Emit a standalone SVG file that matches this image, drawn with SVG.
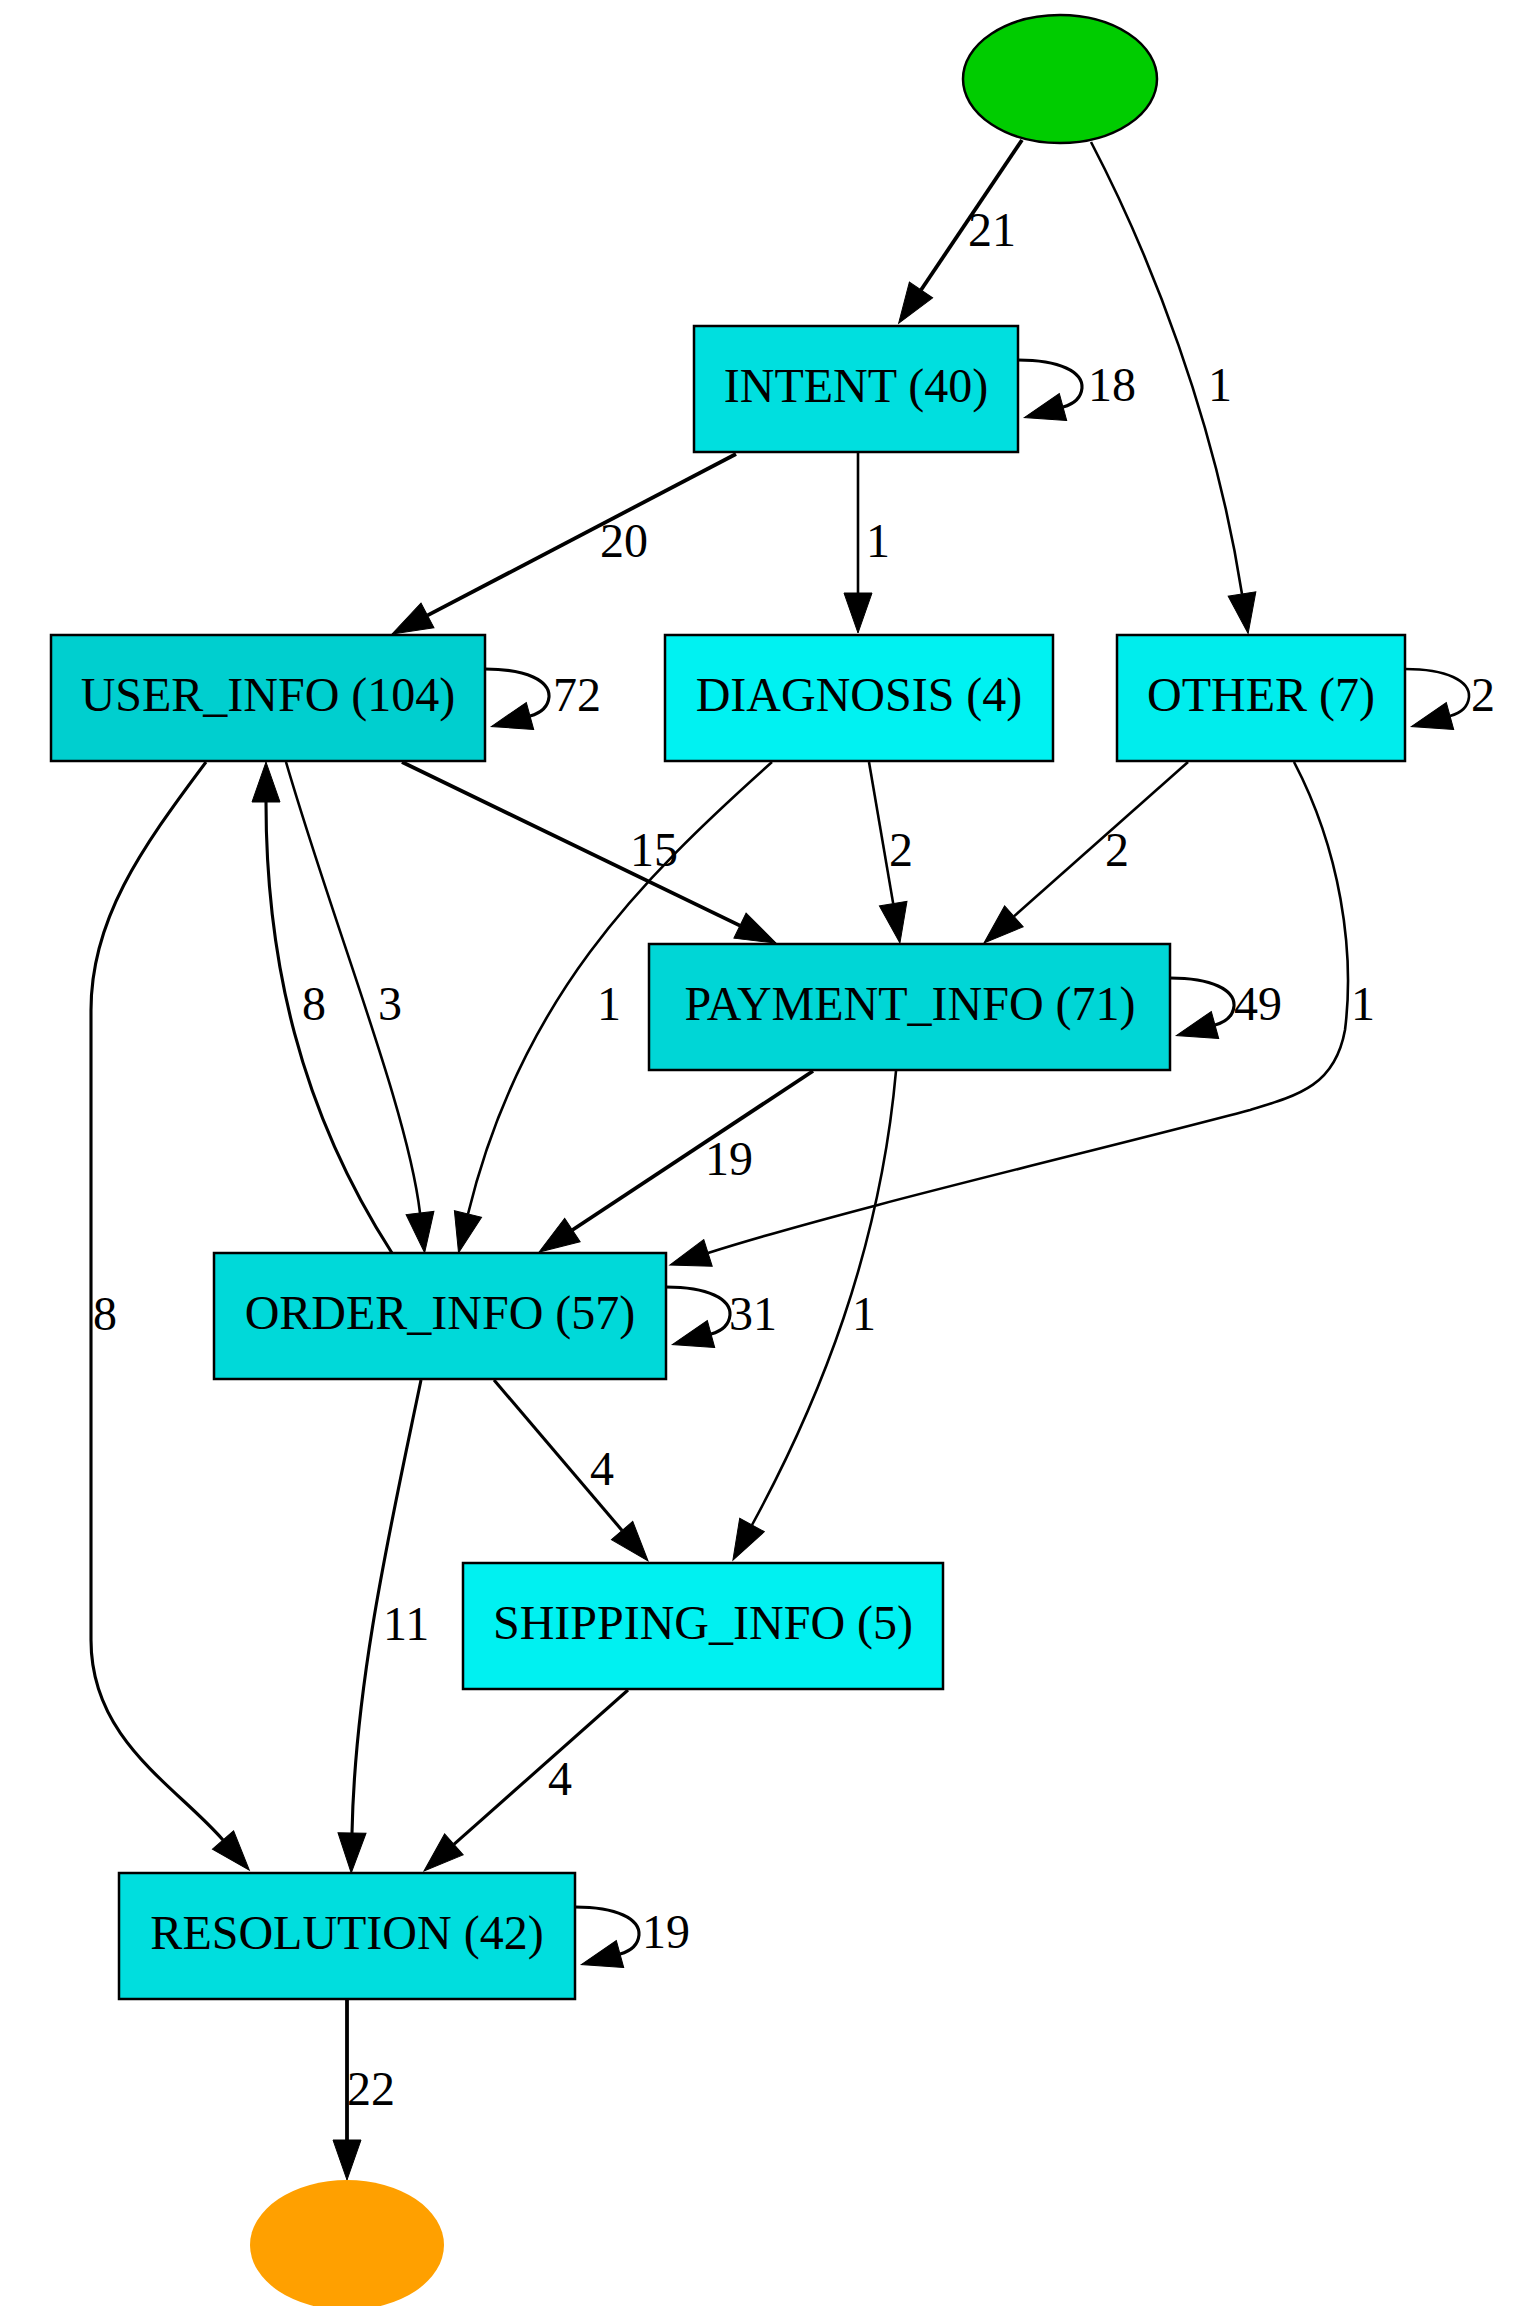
<svg xmlns="http://www.w3.org/2000/svg" width="1527" height="2306" viewBox="0 0 1527 2306">
<style>
.box{stroke:#000;stroke-width:2.5}
.nl{font-family:"Liberation Serif","Times New Roman",serif;font-size:48px;text-anchor:middle;fill:#000}
.el{font-family:"Liberation Serif","Times New Roman",serif;font-size:48px;fill:#000}
.e{fill:none;stroke:#000;marker-end:url(#arr)}
.w1{stroke-width:2.6}
.w2{stroke-width:3.1}
.w3{stroke-width:3.8}
</style>
<defs>
<marker id="arr" markerUnits="userSpaceOnUse" markerWidth="42" markerHeight="30" refX="0" refY="14" orient="auto" overflow="visible">
<path d="M0,0 L40,14 L0,28 z" fill="#000" stroke="#000" stroke-width="1"/>
</marker>
</defs>
<rect width="1527" height="2306" fill="#fff"/>
<g id="edges">
<path class="e w3" d="M1022,140 L921,290"/>
<path class="e w1" d="M1091,142 C1150,255 1215,420 1242,594"/>
<path class="e w2" d="M1018,360 C1060,360 1083,372 1082,388 C1081,398 1074,404 1063,407"/>
<path class="e w3" d="M736,454 L427.5,615.4"/>
<path class="e w1" d="M858,452 L858,593"/>
<path class="e w2" d="M485,669 C527,669 550,681 549,697 C548,707 541,713 530,716"/>
<path class="e w3" d="M402,762 L740,925.6"/>
<path class="e w2" d="M206,762 C140,850 91,920 91,1010 L91,1640 C91,1740 175,1785 223,1840"/>
<path class="e w2" d="M392,1253 C300,1110 266,960 266,802"/>
<path class="e w1" d="M286,762 C335,930 408,1110 420,1213"/>
<path class="e w1" d="M772,762 C640,880 520,1000 468,1214"/>
<path class="e w1" d="M869,762 L893.2,903.6"/>
<path class="e w1" d="M1188,762 L1013.9,916.4"/>
<path class="e w1" d="M1405,669 C1447,669 1470,681 1469,697 C1468,707 1461,713 1450,716"/>
<path class="e w1" d="M1294,762 C1340,850 1355,950 1345,1030 C1335,1085 1300,1095 1250,1110 C1100,1150 850,1208 708,1253"/>
<path class="e w2" d="M1170,978 C1212,978 1235,990 1234,1006 C1233,1016 1226,1022 1215,1025"/>
<path class="e w3" d="M813,1071 L572.4,1230"/>
<path class="e w1" d="M896,1071 C880,1250 820,1400 752,1525"/>
<path class="e w2" d="M666,1287 C708,1287 731,1299 730,1315 C729,1325 722,1331 711,1334"/>
<path class="e w2" d="M494,1380 L622.1,1530.5"/>
<path class="e w2" d="M421,1380 C392,1520 355,1680 352,1833"/>
<path class="e w2" d="M628,1690 L453.9,1844.4"/>
<path class="e w2" d="M575,1907 C617,1907 640,1919 639,1935 C638,1945 631,1951 620,1954"/>
<path class="e w3" d="M347,1999 L347,2140"/>
</g>
<g id="edge-labels">
<text class="el" x="968" y="246">21</text>
<text class="el" x="1208" y="401">1</text>
<text class="el" x="1088" y="401">18</text>
<text class="el" x="600" y="557">20</text>
<text class="el" x="866" y="557">1</text>
<text class="el" x="553" y="711">72</text>
<text class="el" x="1471" y="711">2</text>
<text class="el" x="630" y="866">15</text>
<text class="el" x="889" y="866">2</text>
<text class="el" x="1105" y="866">2</text>
<text class="el" x="302" y="1020">8</text>
<text class="el" x="378" y="1020">3</text>
<text class="el" x="597" y="1020">1</text>
<text class="el" x="1234" y="1020">49</text>
<text class="el" x="1351" y="1020">1</text>
<text class="el" x="705" y="1175">19</text>
<text class="el" x="93" y="1330">8</text>
<text class="el" x="729" y="1330">31</text>
<text class="el" x="852" y="1330">1</text>
<text class="el" x="590" y="1485">4</text>
<text class="el" x="383" y="1640">11</text>
<text class="el" x="548" y="1795">4</text>
<text class="el" x="642" y="1948">19</text>
<text class="el" x="347" y="2105">22</text>
</g>
<g id="start"><ellipse cx="1060" cy="79" rx="97" ry="64" fill="#00CC00" stroke="#000" stroke-width="2.5"/></g>
<g id="intent"><rect class="box" x="694" y="326" width="324" height="126" fill="#00DFDF"/><text class="nl" x="856" y="402">INTENT (40)</text></g>
<g id="user_info"><rect class="box" x="51" y="635" width="434" height="126" fill="#00CFCF"/><text class="nl" x="268" y="711">USER_INFO (104)</text></g>
<g id="diagnosis"><rect class="box" x="665" y="635" width="388" height="126" fill="#00F2F2"/><text class="nl" x="859" y="711">DIAGNOSIS (4)</text></g>
<g id="other"><rect class="box" x="1117" y="635" width="288" height="126" fill="#00EDED"/><text class="nl" x="1261" y="711">OTHER (7)</text></g>
<g id="payment_info"><rect class="box" x="649" y="944" width="521" height="126" fill="#00D6D6"/><text class="nl" x="910" y="1020">PAYMENT_INFO (71)</text></g>
<g id="order_info"><rect class="box" x="214" y="1253" width="452" height="126" fill="#00D9D9"/><text class="nl" x="440" y="1329">ORDER_INFO (57)</text></g>
<g id="shipping_info"><rect class="box" x="463" y="1563" width="480" height="126" fill="#00F1F1"/><text class="nl" x="703" y="1639">SHIPPING_INFO (5)</text></g>
<g id="resolution"><rect class="box" x="119" y="1873" width="456" height="126" fill="#00DEDE"/><text class="nl" x="347" y="1949">RESOLUTION (42)</text></g>
<g id="end"><ellipse cx="347" cy="2245" rx="97" ry="65" fill="#FFA000"/></g>
</svg>
